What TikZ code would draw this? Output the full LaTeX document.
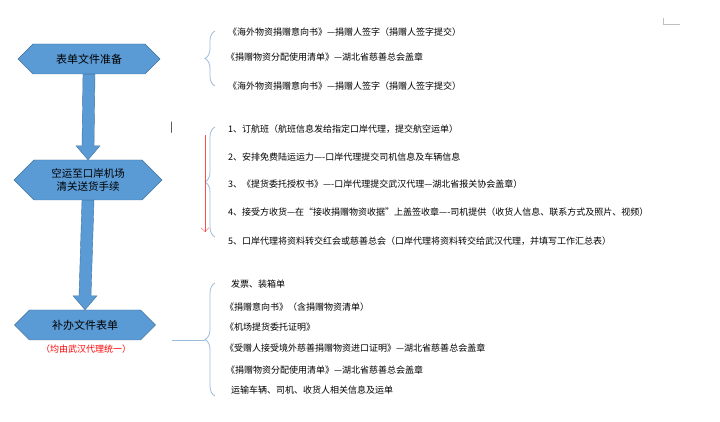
\documentclass[tikz,border=0pt]{standalone}
\usepackage{fontspec}
\setmainfont{Noto Sans CJK SC}
\usetikzlibrary{shapes.symbols,decorations.pathreplacing,arrows.meta}
\definecolor{hexfill}{RGB}{91,155,213}
\definecolor{hexline}{RGB}{65,113,156}
\definecolor{bracecol}{RGB}{155,187,217}
\begin{document}
\begin{tikzpicture}[
       x=1pt, y=1pt,
       hex_style/.style={signal, signal to=west and east, draw=hexline, fill=hexfill,
                         minimum height=30pt, inner sep=1pt, font=\fontsize{11}{13}\selectfont}, % 六边形
       item_style/.style={anchor=west, inner sep=0pt, font=\fontsize{9}{11}\selectfont}, % 清单文字
       brace_style/.style={draw=bracecol, thick, decorate, decoration={brace, amplitude=10pt}},
       flow_style/.style={draw=hexline, fill=hexfill} % 粗箭头
   ]
   \useasboundingbox (0,0) rectangle (720,422);

   % 1. 三个步骤
   \node[hex_style, minimum width=142pt] (prep) at (89,363) {表单文件准备};
   \node[hex_style, minimum width=148pt, minimum height=40pt, align=center,
         font=\fontsize{10.5}{13}\selectfont] (ship) at (88,242) {空运至口岸机场\\清关送货手续};
   \node[hex_style, minimum width=141pt] (fill) at (85,97) {补办文件表单};
   \node[red, font=\fontsize{9}{11}\selectfont] (note) at (86,73) {（均由武汉代理统一）};

   % 2. 步骤间的粗箭头
   \path (prep.south) coordinate (a1) (ship.north) coordinate (a2)
         (ship.south) coordinate (b1) (fill.north) coordinate (b2);
   \filldraw[flow_style] ([xshift=-6pt]a1) -- ([xshift=-6pt,yshift=14pt]a2) -- ([xshift=-12pt,yshift=14pt]a2)
       -- (a2) -- ([xshift=12pt,yshift=14pt]a2) -- ([xshift=6pt,yshift=14pt]a2) -- ([xshift=6pt]a1) -- cycle;
   \filldraw[flow_style] ([xshift=-6pt]b1) -- ([xshift=-6pt,yshift=14pt]b2) -- ([xshift=-12pt,yshift=14pt]b2)
       -- (b2) -- ([xshift=12pt,yshift=14pt]b2) -- ([xshift=6pt,yshift=14pt]b2) -- ([xshift=6pt]b1) -- cycle;

   % 3. 大括号
   \draw[brace_style] (215,336) -- (215,391);
   \draw[brace_style] (215,185) -- (215,295);
   \draw[brace_style] (215,26) -- (215,139);
   \draw[bracecol, thick] (172,82) -- (205,82);

   % 4. 第一组清单
   \node[item_style] (p1) at (228,390) {《海外物资捐赠意向书》—捐赠人签字（捐赠人签字提交）};
   \node[item_style] (p2) at (226,365) {《捐赠物资分配使用清单》—湖北省慈善总会盖章};
   \node[item_style] (p3) at (228,336) {《海外物资捐赠意向书》—捐赠人签字（捐赠人签字提交）};

   % 5. 第二组清单
   \node[item_style] (s1) at (228,293) {1、订航班（航班信息发给指定口岸代理，提交航空运单）};
   \node[item_style] (s2) at (228,265) {2、安排免费陆运运力----口岸代理提交司机信息及车辆信息};
   \node[item_style] (s3) at (228,238) {3、《提货委托授权书》----口岸代理提交武汉代理---湖北省报关协会盖章）};
   \node[item_style] (s4) at (228,210) {4、接受方收货---在“接收捐赠物资收据”上盖签收章----司机提供（收货人信息、联系方式及照片、视频）};
   \node[item_style] (s5) at (228,181) {5、口岸代理将资料转交红会或慈善总会（口岸代理将资料转交给武汉代理，并填写工作汇总表）};
   \draw[red!70, -{Straight Barb[length=4pt]}] (205,287) -- (205,190);
   \node[item_style, font=\fontsize{10}{11}\selectfont] (cursor) at (170,294) {|};

   % 6. 第三组清单
   \node[item_style] (f1) at (231,138) {发票、装箱单};
   \node[item_style] (f2) at (225,115) {《捐赠意向书》（含捐赠物资清单）};
   \node[item_style] (f3) at (225,95) {《机场提货委托证明》};
   \node[item_style] (f4) at (225,74) {《受赠人接受境外慈善捐赠物资进口证明》—湖北省慈善总会盖章};
   \node[item_style] (f5) at (226,52) {《捐赠物资分配使用清单》—湖北省慈善总会盖章};
   \node[item_style] (f6) at (231,32) {运输车辆、司机、收货人相关信息及运单};

   % 页角标记
   \draw[gray!50] (663,404) -- (663,398) -- (680,398);
\end{tikzpicture}
\end{document}
